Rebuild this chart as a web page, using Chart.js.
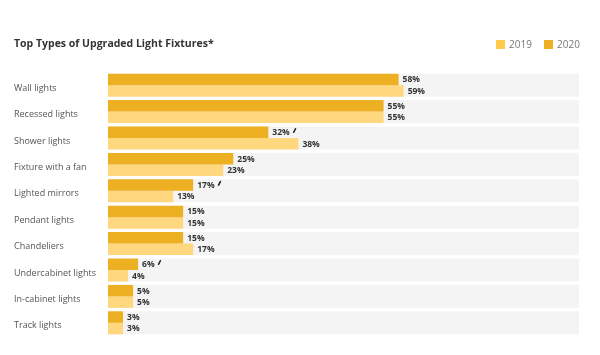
<!DOCTYPE html>
<html><head><meta charset="utf-8">
<script src="https://cdn.jsdelivr.net/npm/chart.js@4.4.1/dist/chart.umd.min.js"></script>
<style>
html,body{margin:0;padding:0;background:#fff;}
#wrap{position:relative;width:600px;height:355px;}
#title{position:absolute;left:14px;top:36px;font:bold 10.5px "Open Sans",sans-serif;color:#333;white-space:nowrap;}
.lg{position:absolute;top:37px;font:10px "Open Sans",sans-serif;color:#777;display:flex;align-items:center;}
.lg span{display:inline-block;width:9px;height:9px;margin-right:4px;}
</style></head>
<body><div id="wrap">
<canvas id="c" width="600" height="355"></canvas>
<div id="title">Top Types of Upgraded Light Fixtures*</div>
<div class="lg" style="left:496px"><span style="background:#ffc94a"></span>2019</div>
<div class="lg" style="left:544px"><span style="background:#edb022"></span>2020</div>
</div>
<script>
const categories = ["Wall lights","Recessed lights","Shower lights","Fixture with a fan","Lighted mirrors","Pendant lights","Chandeliers","Undercabinet lights","In-cabinet lights","Track lights"];
const values2020 = [58,55,32,25,17,15,15,6,5,3];
const values2019 = [59,55,38,23,13,15,17,4,5,3];
const increaseFlags2020 = [false,false,true,false,true,false,false,true,false,false];
const axisMax = 94;

const bandPlugin = {
  id:'bands',
  beforeDatasetsDraw(chart){
    const {ctx, chartArea, scales} = chart;
    const y = scales.y;
    const step = (y.getPixelForValue(1) - y.getPixelForValue(0));
    const h = step * 0.87;
    ctx.save();
    ctx.fillStyle = '#f4f4f4';
    categories.forEach((c,i)=>{
      const cy = y.getPixelForValue(i);
      ctx.fillRect(chartArea.left, cy - h/2, chartArea.right - chartArea.left, h);
    });
    ctx.restore();
  }
};
const labelPlugin = {
  id:'vals',
  afterDatasetsDraw(chart){
    const {ctx} = chart;
    ctx.save();
    ctx.font = 'bold 8.5px "Open Sans", sans-serif';
    ctx.fillStyle = '#333';
    ctx.textBaseline = 'middle';
    chart.data.datasets.forEach((ds, di)=>{
      const meta = chart.getDatasetMeta(di);
      meta.data.forEach((bar, i)=>{
        const txt = ds.data[i] + '%';
        const x = bar.x + 4, yy = bar.y + 0.5;
        ctx.fillText(txt, x, yy);
        if (di === 0 && increaseFlags2020[i]) {
          const w = ctx.measureText(txt).width;
          const ax = x + w + 4;
          ctx.beginPath();
          ctx.strokeStyle = '#222';
          ctx.lineWidth = 1.6;
          ctx.lineCap = 'round';
          ctx.moveTo(ax, yy - 0.5);
          ctx.lineTo(ax + 1.8, yy - 4);
          ctx.stroke();
        }
      });
    });
    ctx.restore();
  }
};

new Chart(document.getElementById('c'), {
  type:'bar',
  data:{
    labels: categories,
    datasets:[
      {label:'2020', data: values2020, backgroundColor:'#edb022', categoryPercentage:0.87, barPercentage:1},
      {label:'2019', data: values2019, backgroundColor:'#fed77f', categoryPercentage:0.87, barPercentage:1}
    ]
  },
  options:{
    indexAxis:'y',
    responsive:false,
    animation:false,
    layout:{padding:{left:14, right:21, top:72, bottom:19}},
    plugins:{legend:{display:false}, tooltip:{enabled:false}},
    scales:{
      x:{display:false, min:0, max:axisMax},
      y:{
        grid:{display:false, drawTicks:false}, border:{display:false},
        afterFit(s){ s.width = 94; },
        ticks:{crossAlign:'far', padding:0, labelOffset:3, color:'#555', font:{family:'"Open Sans", sans-serif', size:9}}
      }
    }
  },
  plugins:[bandPlugin, labelPlugin]
});
</script>
</body></html>
